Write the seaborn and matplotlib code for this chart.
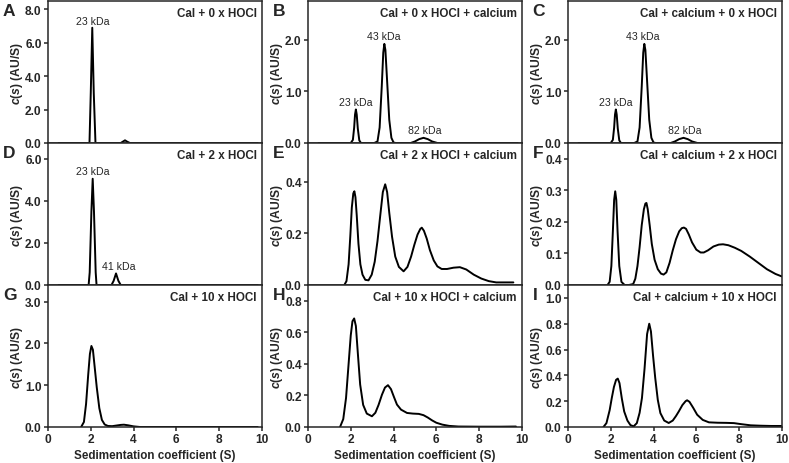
import numpy as np
import pandas as pd
import seaborn as sns
import matplotlib
matplotlib.use("Agg")
import matplotlib.pyplot as plt

# c(s) distributions (x in S, y in AU/S)
xA = [0.5, 1.94, 2.00, 2.07, 2.14, 2.22, 3.40, 3.50, 3.60, 3.70, 3.83, 9.8]
yA = [0, 0, 3.0, 6.9, 3.0, 0, 0, 0.08, 0.16, 0.08, 0, 0]

xB = [0.5, 2.00, 2.10, 2.16, 2.20, 2.24, 2.28, 2.33, 2.40, 2.48,
      3.10, 3.25, 3.35, 3.45, 3.52, 3.57, 3.62, 3.70, 3.80, 3.90, 4.00, 4.10,
      4.80, 5.00, 5.20, 5.40, 5.60, 5.80, 6.05, 9.8]
yB = [0, 0, 0.06, 0.30, 0.55, 0.65, 0.55, 0.28, 0.05, 0,
      0, 0.03, 0.30, 1.10, 1.75, 1.92, 1.80, 1.20, 0.45, 0.10, 0.01, 0,
      0, 0.03, 0.075, 0.10, 0.075, 0.03, 0, 0]

xC = [0.5, 2.00, 2.10, 2.16, 2.20, 2.24, 2.28, 2.33, 2.40, 2.48,
      3.10, 3.25, 3.35, 3.45, 3.52, 3.57, 3.62, 3.70, 3.80, 3.90, 4.00, 4.10,
      4.80, 5.00, 5.20, 5.40, 5.60, 5.80, 6.05, 9.8]
yC = [0, 0, 0.06, 0.30, 0.55, 0.65, 0.55, 0.28, 0.05, 0,
      0, 0.03, 0.30, 1.10, 1.75, 1.92, 1.80, 1.20, 0.45, 0.10, 0.01, 0,
      0, 0.03, 0.075, 0.10, 0.075, 0.03, 0, 0]

xD = [0.5, 1.90, 1.95, 2.03, 2.09, 2.15, 2.23, 2.27,
      2.97, 3.07, 3.18, 3.29, 3.40, 9.8]
yD = [0, 0, 0.6, 3.5, 5.05, 3.5, 0.6, 0,
      0, 0.2, 0.55, 0.2, 0, 0]

xE = [1.70, 1.80, 1.90, 1.98, 2.05, 2.12, 2.17, 2.22, 2.28, 2.36, 2.45, 2.55,
      2.68, 2.83, 2.98, 3.12, 3.25, 3.38, 3.50, 3.61, 3.70, 3.80, 3.93, 4.08,
      4.25, 4.47, 4.65, 4.82, 4.97, 5.12, 5.25, 5.32, 5.42, 5.55, 5.70, 5.88,
      6.05, 6.25, 6.50, 6.80, 7.10, 7.40, 7.75, 8.10, 8.45, 8.80, 9.20, 9.60]
yE = [0, 0.015, 0.08, 0.19, 0.30, 0.355, 0.363, 0.34, 0.27, 0.16, 0.08, 0.04,
      0.02, 0.018, 0.04, 0.09, 0.17, 0.27, 0.36, 0.39, 0.36, 0.28, 0.187, 0.11,
      0.07, 0.053, 0.07, 0.11, 0.155, 0.195, 0.217, 0.222, 0.21, 0.18, 0.135, 0.095,
      0.072, 0.062, 0.062, 0.067, 0.069, 0.06, 0.04, 0.025, 0.015, 0.01, 0.01, 0.01]

xF = [1.85, 1.95, 2.03, 2.10, 2.16, 2.21, 2.26, 2.32, 2.40, 2.50, 2.65, 2.85,
      3.05, 3.15, 3.25, 3.35, 3.45, 3.55, 3.62, 3.67, 3.73, 3.82, 3.92, 4.05,
      4.20, 4.35, 4.47, 4.60, 4.75, 4.90, 5.05, 5.20, 5.32, 5.42, 5.52, 5.65,
      5.80, 6.00, 6.20, 6.35, 6.55, 6.80, 7.05, 7.25, 7.50, 7.80, 8.10, 8.50,
      8.90, 9.30, 9.70, 10.0]
yF = [0, 0.01, 0.06, 0.17, 0.27, 0.297, 0.27, 0.17, 0.06, 0.01, 0, 0,
      0.003, 0.02, 0.06, 0.12, 0.19, 0.24, 0.258, 0.26, 0.24, 0.19, 0.13, 0.08,
      0.05, 0.036, 0.033, 0.04, 0.07, 0.11, 0.145, 0.17, 0.18, 0.182, 0.178, 0.16,
      0.135, 0.112, 0.103, 0.103, 0.11, 0.122, 0.128, 0.129, 0.126, 0.118, 0.108, 0.09,
      0.07, 0.05, 0.035, 0.027]

xG = [1.55, 1.68, 1.78, 1.88, 1.96, 2.03, 2.10, 2.18, 2.28, 2.40, 2.52, 2.65,
      2.80, 3.00, 3.20, 3.40, 3.55, 3.75, 4.00, 4.30, 9.8]
yG = [0, 0.12, 0.55, 1.25, 1.75, 1.94, 1.85, 1.45, 0.95, 0.45, 0.17, 0.06,
      0.025, 0.02, 0.035, 0.05, 0.055, 0.04, 0.015, 0, 0]

xH = [1.50, 1.65, 1.78, 1.90, 2.00, 2.08, 2.16, 2.24, 2.33, 2.44, 2.58, 2.75,
      2.99, 3.15, 3.30, 3.46, 3.60, 3.74, 3.88, 4.02, 4.16, 4.35, 4.63, 4.90,
      5.18, 5.40, 5.60, 5.80, 6.00, 6.28, 6.60, 7.03, 8.00, 9.00, 9.72]
yH = [0, 0.05, 0.184, 0.40, 0.58, 0.67, 0.688, 0.64, 0.47, 0.269, 0.14, 0.085,
      0.068, 0.09, 0.14, 0.205, 0.25, 0.265, 0.24, 0.19, 0.142, 0.11, 0.089, 0.085,
      0.083, 0.075, 0.06, 0.042, 0.027, 0.015, 0.007, 0.003, 0.002, 0.002, 0.003]

xI = [1.66, 1.80, 1.95, 2.05, 2.15, 2.25, 2.33, 2.41, 2.52, 2.63, 2.78, 2.92,
      3.07, 3.22, 3.35, 3.46, 3.58, 3.70, 3.80, 3.88, 3.98, 4.08, 4.20, 4.32,
      4.50, 4.71, 4.90, 5.05, 5.18, 5.35, 5.50, 5.57, 5.68, 5.85, 6.04, 6.30,
      6.59, 7.00, 7.40, 7.76, 8.10, 8.54, 9.00, 9.50, 10.0]
yI = [0, 0.03, 0.13, 0.225, 0.31, 0.365, 0.375, 0.34, 0.22, 0.12, 0.05, 0.015,
      0.005, 0.03, 0.11, 0.225, 0.45, 0.72, 0.80, 0.74, 0.55, 0.38, 0.21, 0.108,
      0.05, 0.031, 0.05, 0.085, 0.12, 0.17, 0.20, 0.207, 0.195, 0.15, 0.095, 0.055,
      0.036, 0.033, 0.032, 0.03, 0.022, 0.013, 0.01, 0.008, 0.008]

letters = ['A', 'B', 'C', 'D', 'E', 'F', 'G', 'H', 'I']
titles = ['Cal + 0 x HOCl', 'Cal + 0 x HOCl + calcium', 'Cal + calcium + 0 x HOCl',
          'Cal + 2 x HOCl', 'Cal + 2 x HOCl + calcium', 'Cal + calcium + 2 x HOCl',
          'Cal + 10 x HOCl', 'Cal + 10 x HOCl + calcium', 'Cal + calcium + 10 x HOCl']
yticks = [[0, 2, 4, 6, 8], [0, 1, 2], [0, 1, 2],
          [0, 2, 4, 6], [0, 0.2, 0.4], [0, 0.1, 0.2, 0.3, 0.4],
          [0, 1, 2, 3], [0, 0.2, 0.4, 0.6, 0.8], [0, 0.2, 0.4, 0.6, 0.8, 1.0]]
ymax = [8.5, 2.75, 2.75, 6.75, 0.55, 0.45, 3.4, 0.9, 1.1]

# peak labels: panel index -> (x, y, text)
peak_labels = {
    0: [(2.07, 7.0, '23 kDa')],
    1: [(2.24, 0.70, '23 kDa'), (3.52, 1.97, '43 kDa'), (5.45, 0.15, '82 kDa')],
    2: [(2.24, 0.70, '23 kDa'), (3.52, 1.97, '43 kDa'), (5.45, 0.15, '82 kDa')],
    3: [(2.1, 5.2, '23 kDa'), (3.3, 0.65, '41 kDa')],
}

curves = [(xA, yA), (xB, yB), (xC, yC), (xD, yD), (xE, yE), (xF, yF),
          (xG, yG), (xH, yH), (xI, yI)]

sns.set_style("ticks")
plt.rcParams['font.family'] = ['Liberation Sans', 'DejaVu Sans']
plt.rcParams['mathtext.fontset'] = 'custom'
plt.rcParams['mathtext.it'] = 'Liberation Sans:italic:bold'
plt.rcParams['mathtext.rm'] = 'Liberation Sans:bold'
plt.rcParams['axes.linewidth'] = 1.1

fig, axes = plt.subplots(3, 3, figsize=(7.89, 4.64), dpi=100)
fig.subplots_adjust(left=0.0608, right=0.991, top=0.9957, bottom=0.0776,
                    hspace=0, wspace=0.215)

for i, ax in enumerate(axes.flat):
    xs, ys = curves[i]
    df = pd.DataFrame({'s': xs, 'c': ys})
    sns.lineplot(data=df, x='s', y='c', ax=ax, color='black', lw=1.4)
    ax.set_xlim(0, 10)
    ax.set_ylim(0, ymax[i])
    ax.set_yticks(yticks[i])
    ax.set_yticklabels([f'{t:.1f}' for t in yticks[i]], fontweight='bold', fontsize=8.6)
    ax.set_xticks([0, 2, 4, 6, 8, 10])
    for sp in ax.spines.values():
        sp.set_visible(True)
        sp.set_linewidth(1.1)
    ax.tick_params(axis='y', length=3, width=1.1, pad=1.5)
    if i >= 6:
        ax.set_xticklabels(['0', '2', '4', '6', '8', '10'], fontweight='bold', fontsize=8.6)
        ax.tick_params(axis='x', length=3, width=1.1, pad=1.5)
        ax.set_xlabel('Sedimentation coefficient (S)', fontweight='bold', fontsize=8.4, labelpad=3)
    else:
        ax.tick_params(axis='x', length=0, labelbottom=False)
        ax.set_xlabel('')
    ax.set_ylabel(r'$c(s)$ (AU/S)', fontweight='bold', fontsize=8.7)
    ax.yaxis.set_label_coords(-0.108, 0.5)
    ax.text(0.975, 0.955, titles[i], transform=ax.transAxes, ha='right', va='top',
            fontweight='bold', fontsize=8.4)
    lx = -0.21 if i % 3 == 0 else -0.165
    ax.text(lx, 0.985, letters[i], transform=ax.transAxes, ha='left', va='top',
            fontweight='bold', fontsize=12.5)
    for (px, py, txt) in peak_labels.get(i, []):
        ax.text(px, py, txt, ha='center', va='bottom', fontsize=7.6)

fig.savefig('out.png', dpi=100)
